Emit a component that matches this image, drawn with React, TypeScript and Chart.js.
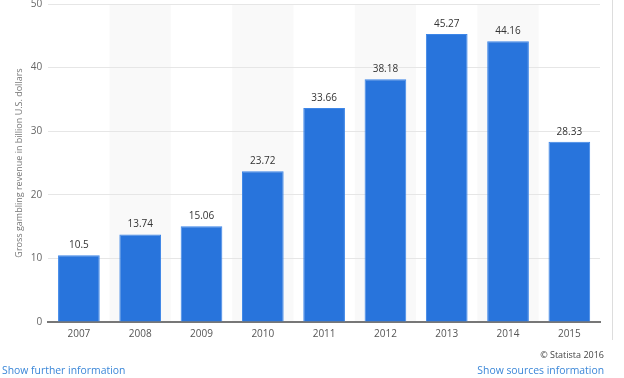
import React, { useEffect, useRef } from "react";
import { Chart, registerables } from "chart.js";

Chart.register(...registerables);

const years = ["2007", "2008", "2009", "2010", "2011", "2012", "2013", "2014", "2015"];
const revenue = [10.5, 13.74, 15.06, 23.72, 33.66, 38.18, 45.27, 44.16, 28.33];
const valueLabels = ["10.5", "13.74", "15.06", "23.72", "33.66", "38.18", "45.27", "44.16", "28.33"];
const yTitle = "Gross gambling revenue in billion U.S. dollars";

const FONT = "'Open Sans', 'DejaVu Sans', sans-serif";

const bandsPlugin = {
  id: "bands",
  beforeDraw(chart: any) {
    const { ctx, chartArea, scales } = chart;
    const x = scales.x;
    const n = years.length;
    const w = (chartArea.right - chartArea.left) / n;
    ctx.save();
    ctx.fillStyle = "#f9f9f9";
    for (let i = 1; i < n; i += 2) {
      const c = x.getPixelForValue(i);
      ctx.fillRect(c - w / 2, chartArea.top, w, chartArea.bottom - chartArea.top);
    }
    ctx.restore();
  },
};

const labelsPlugin = {
  id: "valueLabels",
  afterDatasetsDraw(chart: any) {
    const { ctx } = chart;
    const meta = chart.getDatasetMeta(0);
    ctx.save();
    ctx.font = `10px ${FONT}`;
    ctx.fillStyle = "#333";
    ctx.textAlign = "center";
    ctx.textBaseline = "bottom";
    meta.data.forEach((bar: any, i: number) => {
      ctx.fillText(valueLabels[i], bar.x, bar.y - 5);
    });
    ctx.restore();
  },
};

export default function App() {
  const ref = useRef<HTMLCanvasElement>(null);
  useEffect(() => {
    document.body.style.margin = "0";
    const chart = new Chart(ref.current!, {
      type: "bar",
      data: {
        labels: years,
        datasets: [
          {
            data: revenue,
            backgroundColor: "#2874dc",
            borderColor: "#3d86e8",
            borderWidth: 1,
            categoryPercentage: 1,
            barPercentage: 0.68,
          },
        ],
      },
      options: {
        responsive: false,
        animation: false,
        layout: { padding: { left: 2, right: 24, top: 4, bottom: 32 } },
        plugins: { legend: { display: false }, tooltip: { enabled: false } },
        scales: {
          x: {
            grid: { display: false, drawTicks: false },
            border: { color: "#777", width: 2 },
            ticks: { color: "#555", font: { family: FONT, size: 10 }, padding: 6 },
          },
          y: {
            min: 0,
            max: 50,
            afterFit(scale: any) {
              scale.paddingTop = 0;
            },
            ticks: { stepSize: 10, color: "#666", font: { family: FONT, size: 10 }, padding: 6 },
            grid: { color: "#e6e6e6", drawTicks: false },
            border: { display: false },
            title: {
              display: true,
              text: yTitle,
              color: "#777",
              font: { family: FONT, size: 9 },
              padding: { top: 12, bottom: 0 },
            },
          },
        },
      },
      plugins: [bandsPlugin, labelsPlugin],
    });
    return () => chart.destroy();
  }, []);

  const link: React.CSSProperties = {
    position: "absolute",
    top: 363,
    fontFamily: FONT,
    fontSize: 10.4,
    color: "#3b87d8",
  };

  return (
    <div style={{ position: "relative", width: 624, height: 378, background: "#fff", overflow: "hidden" }}>
      <canvas ref={ref} width={624} height={378} style={{ position: "absolute", left: 0, top: 0 }} />
      <div style={{ position: "absolute", right: 20, top: 348, fontFamily: FONT, fontSize: 9, color: "#444" }}>
        © Statista 2016
      </div>
      <div style={{ ...link, left: 2 }}>Show further information</div>
      <div style={{ ...link, right: 20 }}>Show sources information</div>
      <div style={{ position: "absolute", left: 612, top: 0, width: 1, height: 340, background: "#ddd" }} />
    </div>
  );
}
